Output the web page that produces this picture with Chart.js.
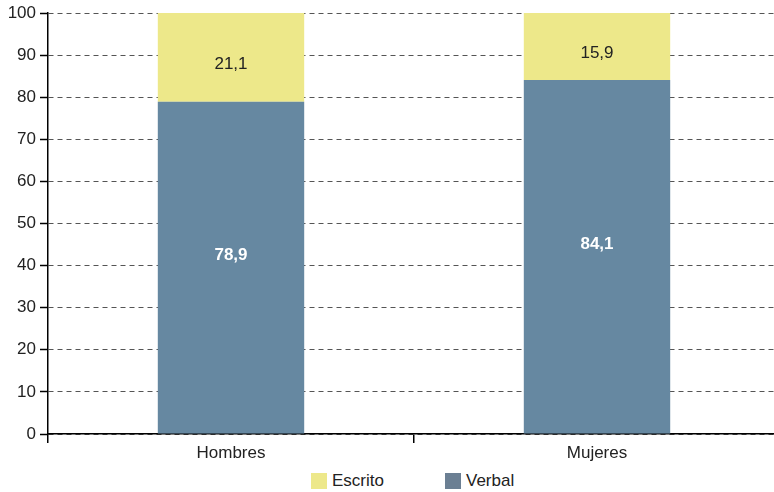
<!DOCTYPE html>
<html>
<head>
  <meta charset="UTF-8">
  <title>Escrito / Verbal</title>
  <script src="https://cdn.jsdelivr.net/npm/chart.js"></script>
  <style>
    html, body {
      margin: 0;
      padding: 0;
      background: #fff;
      overflow: hidden;
      font-family: "Liberation Sans", Arial, sans-serif;
    }
    #wrap {
      position: relative;
      width: 780px;
      height: 492px;
    }
    #chartBox {
      position: absolute;
      left: 0;
      top: 0;
      width: 780px;
      height: 470px;
    }
    #legend {
      position: absolute;
      top: 473px;
      left: 0;
      font-size: 17px;
      color: #222;
    }
    .item {
      position: absolute;
      top: 0;
      white-space: nowrap;
      line-height: 16px;
    }
    .sw {
      display: inline-block;
      width: 16px;
      height: 16px;
      vertical-align: top;
      margin-right: 5px;
    }
  </style>
</head>
<body>
  <div id="wrap">
    <div id="chartBox"><canvas id="chart"></canvas></div>
    <div id="legend">
      <div class="item" style="left:311px"><span class="sw" style="background:#ede88a"></span>Escrito</div>
      <div class="item" style="left:445px"><span class="sw" style="background:#6b7f93"></span>Verbal</div>
    </div>
  </div>
  <script>
    const categories = ['Hombres', 'Mujeres'];
    const verbal = [78.9, 84.1];
    const escrito = [21.1, 15.9];
    const yTicks = [0, 10, 20, 30, 40, 50, 60, 70, 80, 90, 100];

    const fmt = v => v.toFixed(1).replace('.', ',');
    const FONT = '"Liberation Sans", Arial, sans-serif';

    // draw the values inside each segment
    const segmentLabels = {
      id: 'segmentLabels',
      afterDatasetsDraw(chart) {
        const ctx = chart.ctx;
        ctx.save();
        ctx.textAlign = 'center';
        ctx.textBaseline = 'middle';
        chart.data.datasets.forEach((ds, i) => {
          const meta = chart.getDatasetMeta(i);
          meta.data.forEach((bar, j) => {
            const mid = (bar.y + bar.base) / 2;
            if (ds.label === 'Verbal') {
              ctx.font = 'bold 17px ' + FONT;
              ctx.fillStyle = '#fff';
              ctx.fillText(fmt(ds.data[j]), bar.x, mid - 12);
            } else {
              ctx.font = '17px ' + FONT;
              ctx.fillStyle = '#222';
              ctx.fillText(fmt(ds.data[j]), bar.x, mid + 7);
            }
          });
        });
        ctx.restore();
      }
    };

    new Chart(document.getElementById('chart'), {
      type: 'bar',
      data: {
        labels: categories,
        datasets: [
          { label: 'Verbal', data: verbal, backgroundColor: '#6688a1', barPercentage: 0.4, categoryPercentage: 1 },
          { label: 'Escrito', data: escrito, backgroundColor: '#ede88a', barPercentage: 0.4, categoryPercentage: 1 }
        ]
      },
      options: {
        responsive: true,
        maintainAspectRatio: false,
        animation: false,
        layout: { padding: { top: 13, right: 0, left: 0, bottom: 0 } },
        plugins: {
          legend: { display: false },
          tooltip: { enabled: false }
        },
        scales: {
          x: {
            stacked: true,
            afterFit: s => { s.height = 36; },
            border: { color: '#000', width: 1.5 },
            grid: { offset: true, drawOnChartArea: false, tickLength: 9, color: '#000', lineWidth: 1.5 },
            ticks: { color: '#222', padding: 0, font: { size: 17, family: FONT } }
          },
          y: {
            stacked: true,
            min: 0,
            max: 100,
            afterFit: s => { s.width = 48; },
            afterBuildTicks: s => { s.ticks = yTicks.map(v => ({ value: v })); },
            border: { color: '#000', width: 1.5, dash: [5, 4] },
            grid: { color: '#555', lineWidth: 1, tickLength: 8, tickColor: '#000', tickBorderDash: [], tickWidth: 1.5 },
            ticks: { color: '#222', padding: 4, font: { size: 17, family: FONT, lineHeight: 1 } }
          }
        }
      },
      plugins: [segmentLabels]
    });
  </script>
</body>
</html>
